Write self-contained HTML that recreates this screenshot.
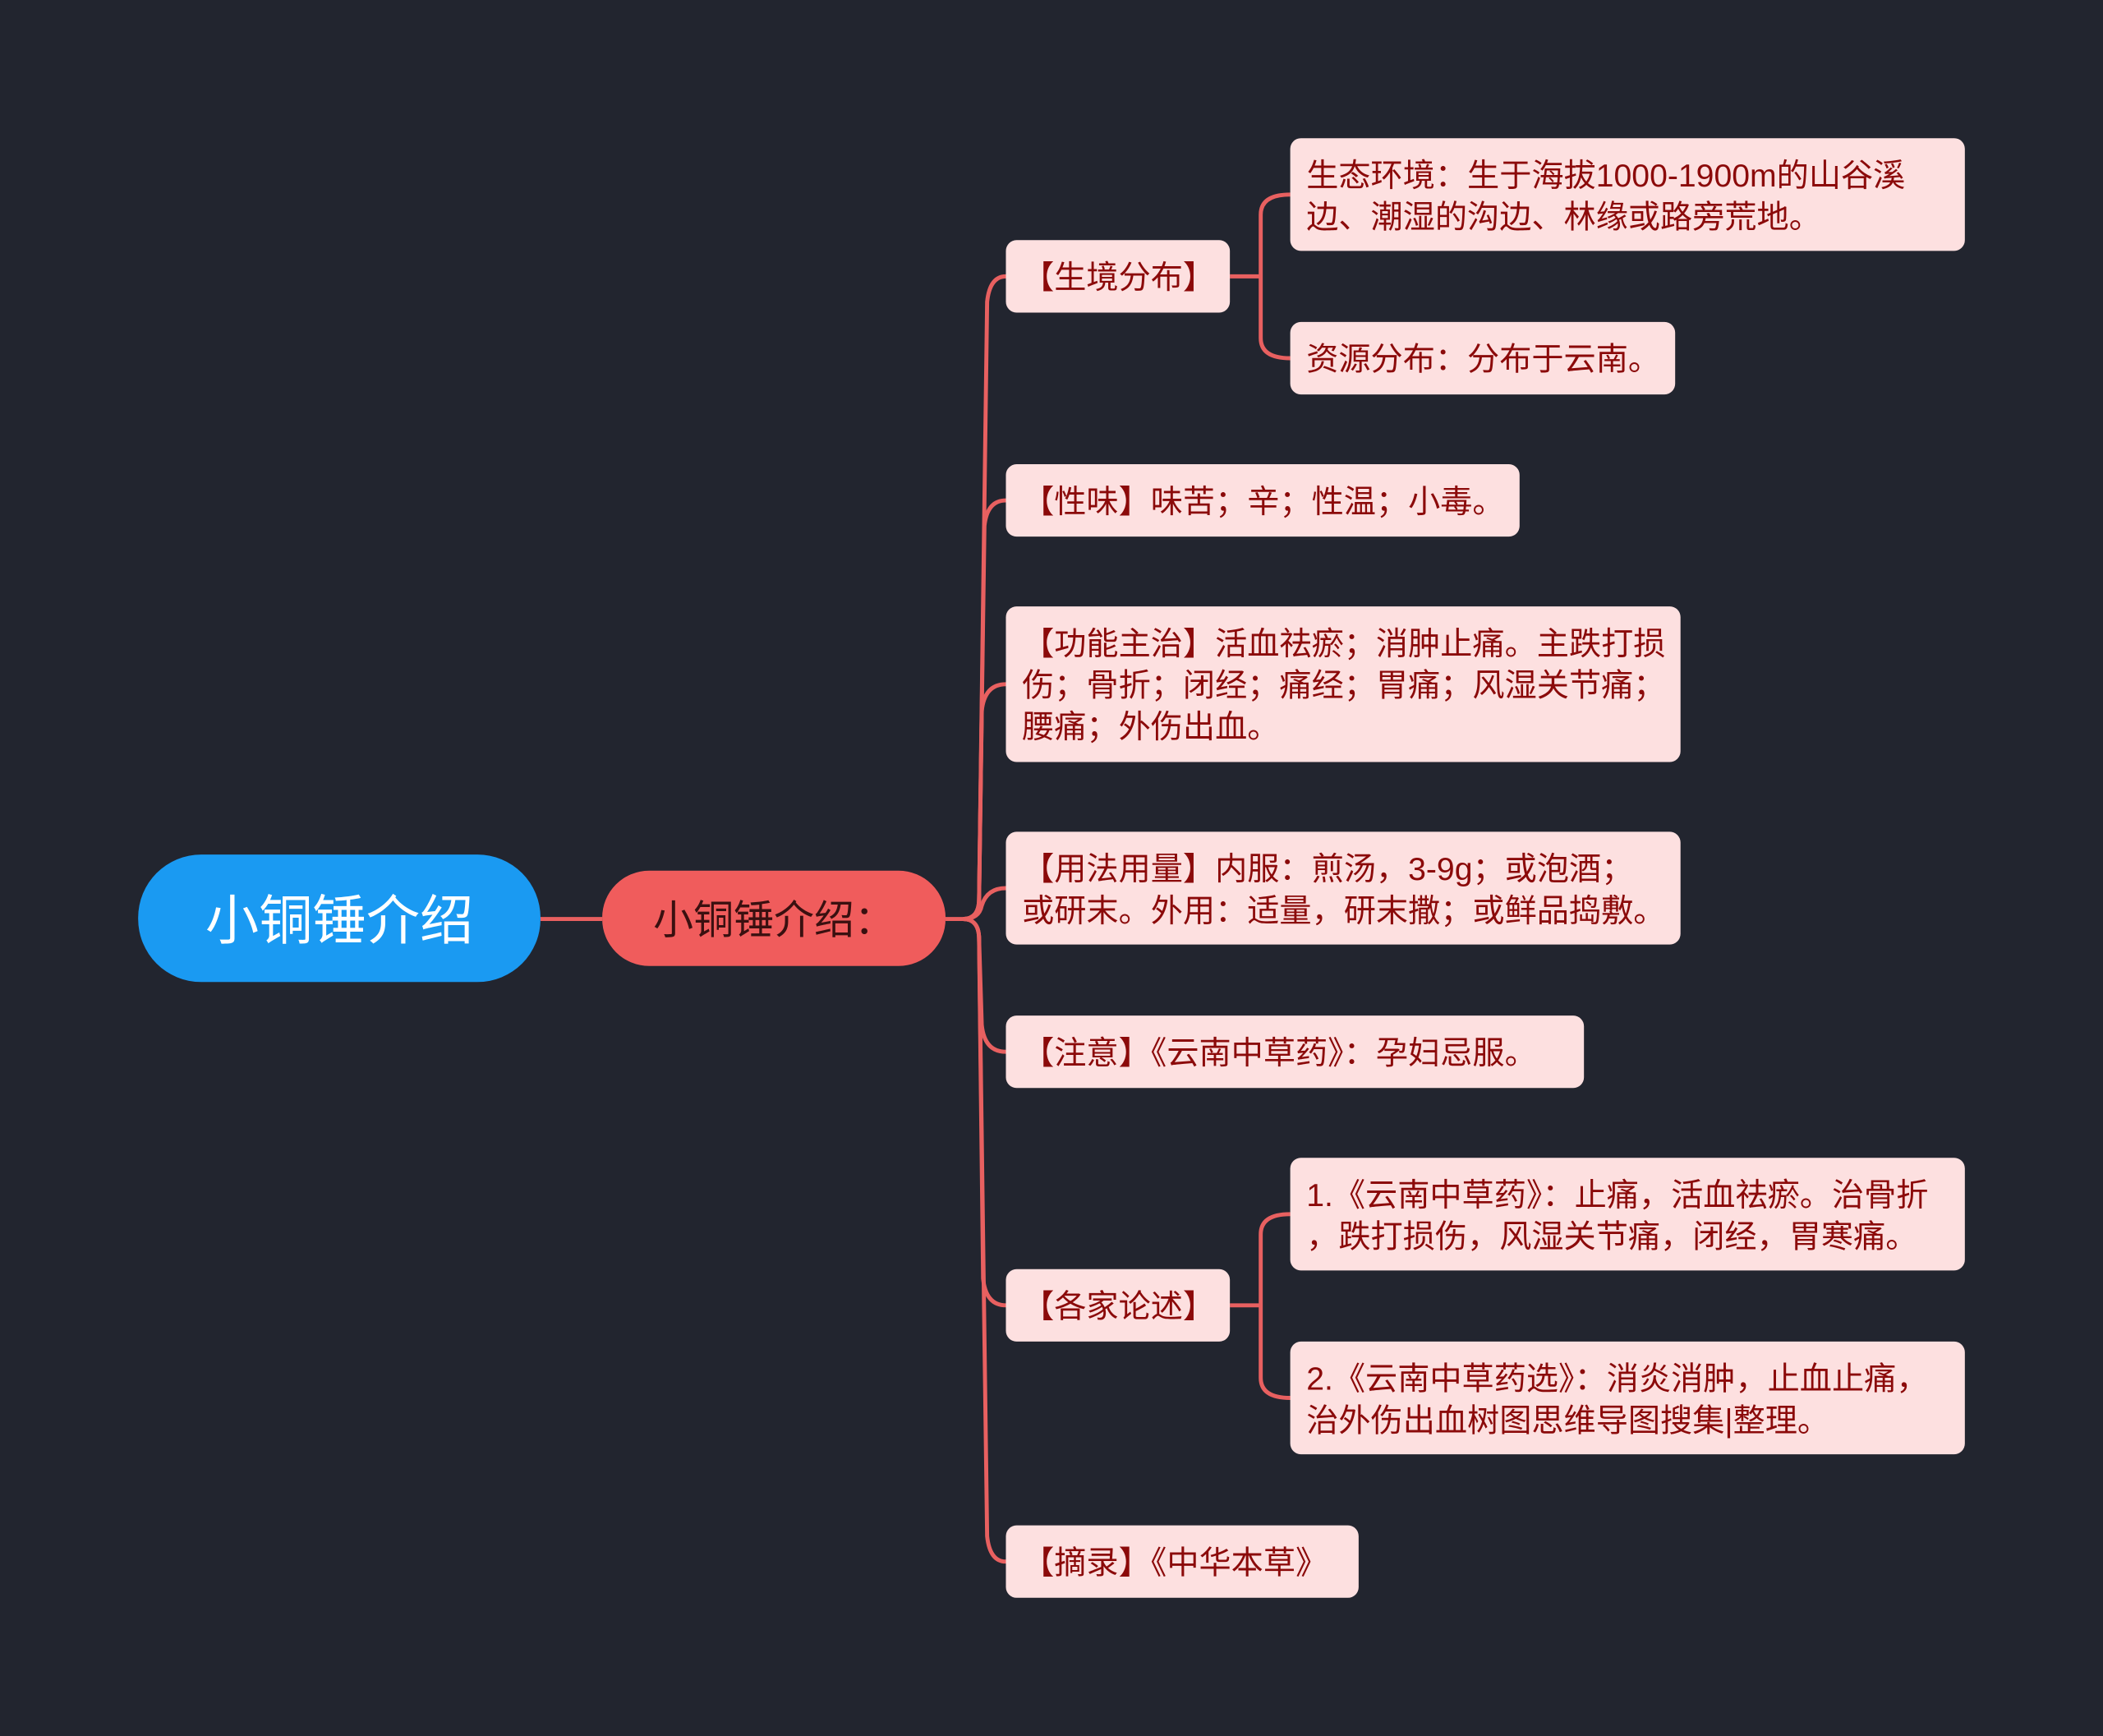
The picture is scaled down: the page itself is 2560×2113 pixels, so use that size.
<!DOCTYPE html>
<html><head><meta charset="utf-8"><style>
html,body{margin:0;padding:0;background:#22252f;}
svg{display:block}
text{font-family:"Liberation Sans","Noto Sans CJK SC",sans-serif;}
</style></head><body>
<svg width="2560" height="2113" viewBox="0 0 1568 1294" preserveAspectRatio="none" xmlns="http://www.w3.org/2000/svg">
<rect width="1568" height="1294" fill="#22252f"/>
<g fill="none" stroke="#e86060" stroke-width="3">
<path d="M403,685 H449"/>
<path d="M705,685 H718"/>
<path d="M718,685 Q730,685 730,670 L736,225 Q738,206 750,206"/>
<path d="M718,685 Q730,685 730,670 L734,392 Q736,373 750,373"/>
<path d="M718,685 Q730,685 730,670 L732,530 Q734,510 750,510"/>
<path d="M718,685 Q730,685 732,675 Q736,662 750,662"/>
<path d="M718,685 Q730,685 730,700 L732,764 Q734,784 750,784"/>
<path d="M718,685 Q730,685 730,700 L733,953 Q735,973 750,973"/>
<path d="M718,685 Q730,685 730,700 L736,1145 Q738,1164 750,1164"/>
<path d="M917,206 H940 M940,206 V160 Q940,145 962,145 M940,206 V252 Q940,267 962,267"/>
<path d="M917,973 H940 M940,973 V920 Q940,905 962,905 M940,973 V1027 Q940,1042 962,1042"/>
</g>
<rect x="103" y="637" width="300" height="95" rx="47" fill="#1a9af2"/>
<text x="253" y="700" font-size="40" fill="#fff" text-anchor="middle">小铜锤介绍</text>
<rect x="449" y="649" width="256" height="71" rx="35" fill="#f05c5c"/>
<text x="577" y="696" font-size="30" fill="#3a1010" text-anchor="middle">小铜锤介绍：</text>
<g fill="#fde0e0">
<rect x="750" y="179" width="167" height="54" rx="8"/>
<rect x="962" y="103" width="503" height="84" rx="8"/>
<rect x="962" y="240" width="287" height="54" rx="8"/>
<rect x="750" y="346" width="383" height="54" rx="8"/>
<rect x="750" y="452" width="503" height="116" rx="8"/>
<rect x="750" y="620" width="503" height="84" rx="8"/>
<rect x="750" y="757" width="431" height="54" rx="8"/>
<rect x="750" y="946" width="167" height="54" rx="8"/>
<rect x="962" y="863" width="503" height="84" rx="8"/>
<rect x="962" y="1000" width="503" height="84" rx="8"/>
<rect x="750" y="1137" width="263" height="54" rx="8"/>
</g>
<g font-size="24" fill="#8b0a0a">
<text x="762" y="215">【生境分布】</text>
<text x="974" y="139">生态环境：生于海拔1000-1900m的山谷溪</text>
<text x="974" y="170">边、潮湿的沟边、林缘或路旁荒地。</text>
<text x="974" y="276">资源分布：分布于云南。</text>
<text x="762" y="382">【性味】味苦；辛；性温；小毒。</text>
<text x="762" y="488">【功能主治】活血祛瘀；消肿止痛。主跌打损</text>
<text x="762" y="519">伤；骨折；闭经；痛经；胃痛；风湿关节痛；</text>
<text x="762" y="550">腰痛；外伤出血。</text>
<text x="762" y="656">【用法用量】内服：煎汤，3-9g；或泡酒；</text>
<text x="762" y="687">或研末。外用：适量，研末撒；或鲜品捣敷。</text>
<text x="762" y="793">【注意】《云南中草药》：孕妇忌服。</text>
<text x="762" y="982">【各家论述】</text>
<text x="974" y="899">1.《云南中草药》：止痛，活血祛瘀。治骨折</text>
<text x="974" y="930">，跌打损伤，风湿关节痛，闭经，胃寒痛。</text>
<text x="974" y="1036">2.《云南中草药选》：消炎消肿，止血止痛，</text>
<text x="974" y="1067">治外伤出血树图思维导图搜集|整理。</text>
<text x="762" y="1173">【摘录】《中华本草》</text>
</g>
</svg>
</body></html>
